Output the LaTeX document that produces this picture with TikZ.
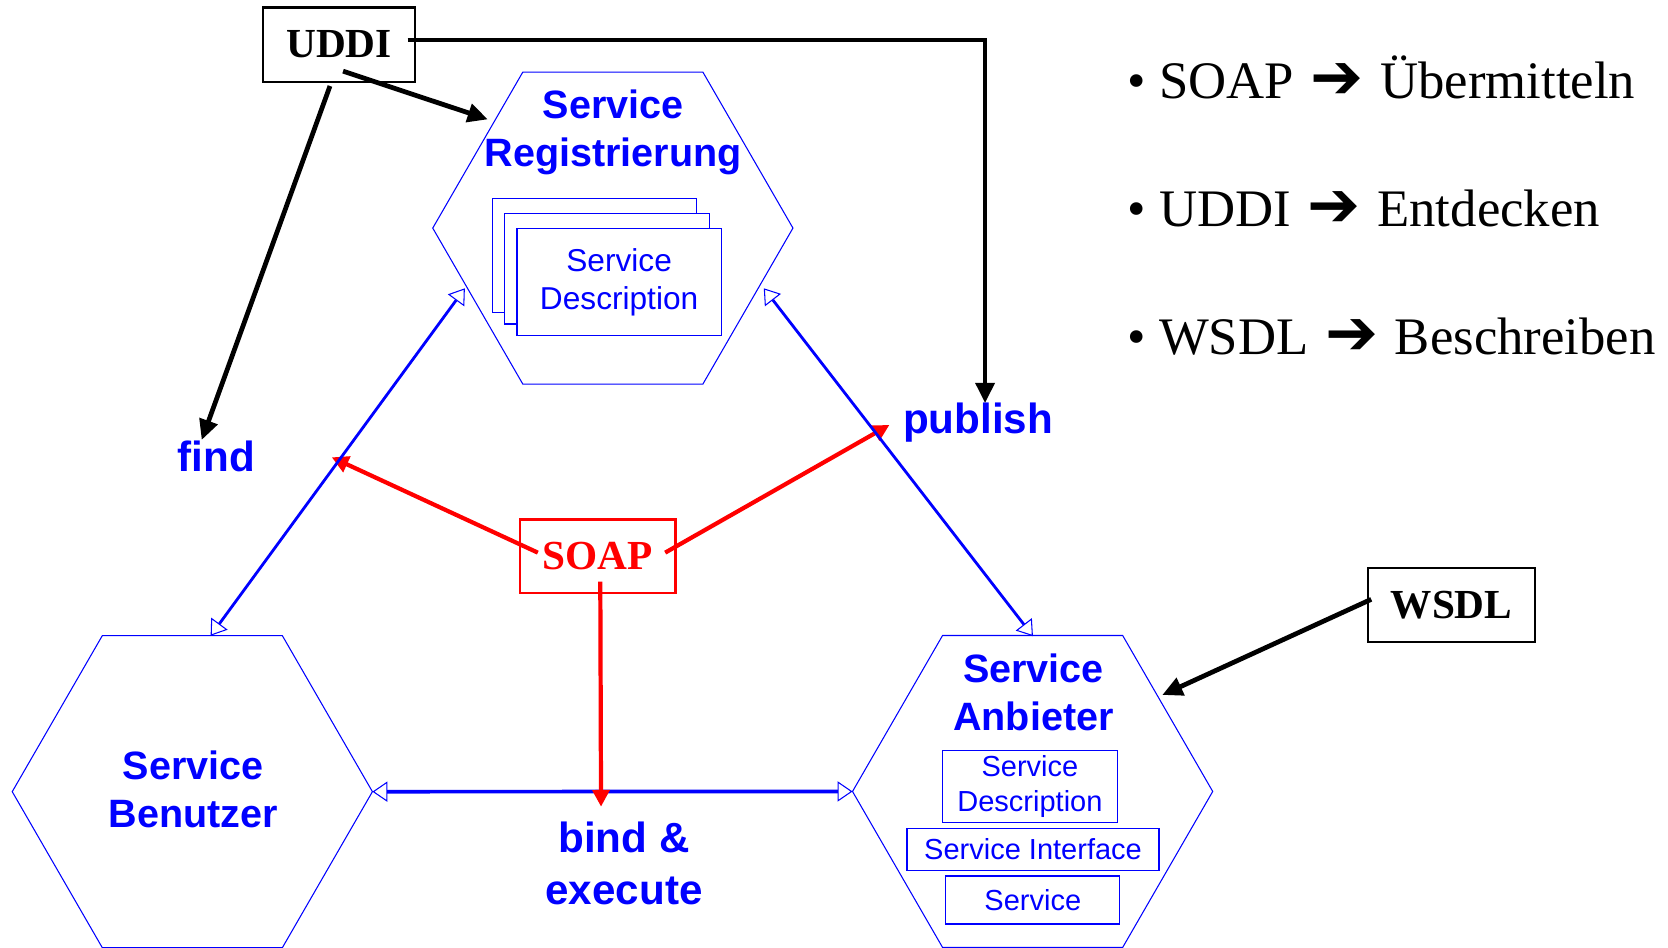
\documentclass[tikz,border=0pt]{standalone}
\usepackage{fontspec}
\setmainfont{Liberation Serif}
\newfontfamily\sansf{Liberation Sans}
\newfontfamily\symf{DejaVu Sans}
\usetikzlibrary{arrows.meta,shapes.geometric,calc}
\newdimen\pxu \pxu=0.021276cm
\definecolor{pblue}{RGB}{0,0,255}
\definecolor{pred}{RGB}{255,0,0}
\tikzset{
 hexa/.style={regular polygon, regular polygon sides=6, minimum size=338.6*\pxu, draw=pblue, line width=0.6pt, inner sep=0pt, outer sep=0pt},
 lbl/.style={text=pblue, font=\sansf\bfseries\fontsize{22.5}{27.4}\selectfont, align=center, inner sep=0pt},
 biglbl/.style={text=pblue, font=\sansf\bfseries\fontsize{24}{29.5}\selectfont, align=center, inner sep=0pt},
 sdbox/.style={draw=pblue, line width=0.7pt, fill=white, text=pblue, align=center, inner sep=0pt, outer sep=0pt},
 keybox/.style={draw=black, line width=1.3pt, font=\bfseries\fontsize{23.5}{28}\selectfont, inner sep=0pt, outer sep=0pt},
 blk/.style={draw=black, line width=2.7pt, -{Triangle[length=11.5pt,width=10.5pt]}},
 redarr/.style={draw=pred, line width=2.4pt, -{Triangle[length=9.5pt,width=9.5pt]}},
 bluelink/.style={draw=pblue, line width=1.6pt, {Triangle[open,length=8.5pt,width=11.5pt,line width=0.6pt]}-{Triangle[open,length=8.5pt,width=11.5pt,line width=0.6pt]}},
 bulletline/.style={anchor=base west, font=\fontsize{30}{36}\selectfont, inner sep=0pt},
}
\newcommand\bigarrow{\hspace{2pt}{\symf\fontsize{36}{36}\selectfont ➔}\hspace{2pt}}
\begin{document}
\begin{tikzpicture}[x=0.021276cm, y=-0.021276cm]
\useasboundingbox (0,0) rectangle (1568,891);

% hexagons
\node[hexa] (hexT) at (576.1,214.4) {};
\node[hexa] (hexL) at (180.8,744.2) {};
\node[hexa] (hexR) at (970.7,744) {};

% stacked service descriptions
\node[sdbox, minimum width=192*\pxu, minimum height=107.2*\pxu] (sd1) at (559,240) {};
\node[sdbox, minimum width=192.2*\pxu, minimum height=104.1*\pxu] (sd2) at (570.7,252.6) {};
\node[sdbox, minimum width=192*\pxu, minimum height=100.6*\pxu, font=\sansf\fontsize{18}{21.7}\selectfont] (sd3) at (582,265.2) {Service\\Description};

% provider boxes
\node[sdbox, minimum width=164*\pxu, minimum height=67.7*\pxu, font=\sansf\fontsize{16.5}{20.2}\selectfont] (aSD) at (968.2,739.2) {Service\\Description};
\node[sdbox, minimum width=237*\pxu, minimum height=39.5*\pxu, font=\sansf\fontsize{16.5}{20.2}\selectfont] (aSI) at (971.1,798.4) {Service Interface};
\node[sdbox, minimum width=163.6*\pxu, minimum height=45.1*\pxu, font=\sansf\fontsize{16.5}{20.2}\selectfont] (aS) at (970.9,846) {Service};

% key boxes
\node[keybox, minimum width=142.3*\pxu, minimum height=69.9*\pxu] (uddi) at (318.7,41.9) {UDDI};
\node[keybox, minimum width=157*\pxu, minimum height=69*\pxu] (wsdl) at (1364.5,568.7) {WSDL};
\node[keybox, draw=pred, text=pred, minimum width=146.5*\pxu, minimum height=69.5*\pxu] (soap) at (561.8,523) {SOAP};

% labels
\node[lbl] (tReg) at (576.4,124.2) {Service\\Registrierung};
\node[lbl] (tBen) at (181.6,741.8) {Service\\Benutzer};
\node[lbl] (tAnb) at (971.5,650.7) {Service\\Anbieter};
\node[biglbl] (tBind) at (586.6,811.5) {bind \&\\execute};
\node[biglbl, anchor=base] (tFind) at (203.5,443.4) {find};
\node[biglbl, anchor=base] (tPub) at (919.5,407.3) {publish};

% bullet list
\node[bulletline] (b1) at (1059.6,93) {• SOAP \bigarrow{} Übermitteln};
\node[bulletline] (b2) at (1059.6,213.2) {• UDDI \bigarrow{} Entdecken};
\node[bulletline] (b3) at (1059.6,333.4) {• WSDL \bigarrow{} Beschreiben};

% connector end points
\coordinate (findTip) at (189.6,413.6);
\coordinate (regTip) at (458.6,112.2);
\coordinate (pubTip) at (926,379);
\coordinate (anbTip) at (1092.6,653.3);
\coordinate (redFindTip) at (311.9,429.9);
\coordinate (redPubTip) at (836.1,399.5);
\coordinate (redBindTip) at (565,758.3);
\coordinate (lnkTL) at ($(hexT.center)+(-139.1,56.6)$);
\coordinate (lnkTR) at ($(hexT.center)+(141.9,56.6)$);
\coordinate (lnkL) at ($(hexL.center)+(17.2,-146.6)$);
\coordinate (lnkR) at ($(hexR.center)+(0.3,-146)$);

% red SOAP arrows
\draw[redarr] ($(soap.center)+(-56.2,-3.5)$) -- (redFindTip);
\draw[redarr] ($(soap.center)+(63.5,-3.5)$) -- (redPubTip);

% blue links
\draw[bluelink] (lnkL) -- (lnkTL);
\draw[bluelink] (lnkR) -- (lnkTR);
\draw[bluelink, line width=2.1pt] (hexL.east) -- (hexR.west);

\draw[redarr] ($(soap.center)+(2.5,23.8)$) -- (redBindTip);

% black arrows
\draw[blk] ($(uddi.south)+(-8.5,4)$) -- (findTip);
\draw[blk] ($(uddi.south)+(3.8,-10)$) -- (regTip);
\draw[blk] ($(uddi.east)+(-6.6,-4.3)$) -| (pubTip);
\draw[blk] ($(wsdl.west)+(3,-5.3)$) -- (anbTip);
\end{tikzpicture}
\end{document}
